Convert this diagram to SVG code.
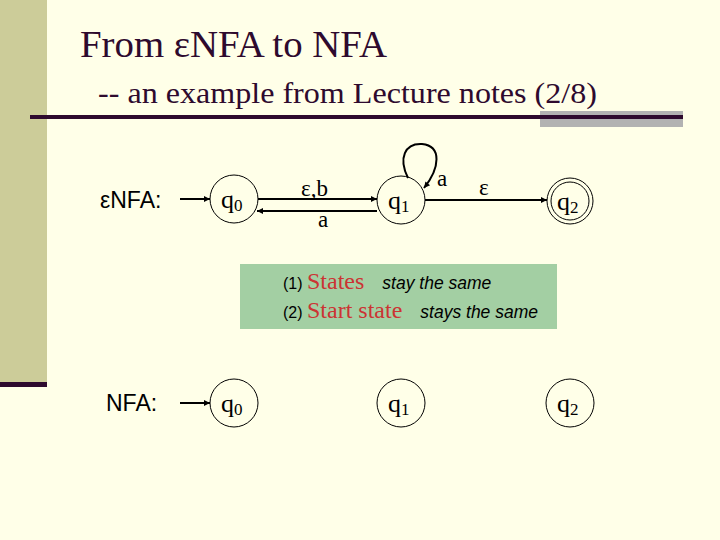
<svg xmlns="http://www.w3.org/2000/svg" width="720" height="540" viewBox="0 0 720 540">
<defs>
<marker id="arr" viewBox="0 0 10 10" refX="10" refY="5" markerWidth="8" markerHeight="6" markerUnits="userSpaceOnUse" orient="auto">
<path d="M0,0 L10,5 L0,10 Z" fill="#000"/>
</marker>
<style>
.st{fill:none;stroke:#000;stroke-width:1}
.q{font-family:"Liberation Serif",serif;font-size:26px;fill:#000}
.sub{font-size:17px}
.lbl{font-family:"Liberation Serif",serif;font-size:23px;fill:#000}
.edge{fill:none;stroke:#000;stroke-width:2;marker-end:url(#arr)}
.sans{font-family:"Liberation Sans",Arial,sans-serif;fill:#000}
.red{font-family:"Liberation Serif",serif;fill:#CC3333;font-size:24px}
.it{font-family:"Liberation Sans",Arial,sans-serif;font-style:italic;font-size:17.5px;fill:#000}
</style>
</defs>
<rect width="720" height="540" fill="#FFFFE8"/>
<rect x="0" y="0" width="47" height="382" fill="#CCCC99"/>
<rect x="0" y="382" width="47" height="5" fill="#2E0A2E"/>
<rect x="540" y="111" width="143" height="16" fill="#B2B2B2"/>
<rect x="30" y="115" width="653" height="4" fill="#2E0A2E"/>
<text x="80" y="57" font-family="Liberation Serif,serif" font-size="38" fill="#2E0A2E" textLength="307" lengthAdjust="spacingAndGlyphs">From εNFA to NFA</text>
<text x="98" y="103" font-family="Liberation Serif,serif" font-size="30" fill="#2E0A2E" textLength="499" lengthAdjust="spacingAndGlyphs">-- an example from Lecture notes (2/8)</text>

<text x="100" y="208" class="sans" font-size="23">εNFA:</text>
<text x="106" y="411" class="sans" font-size="23">NFA:</text>

<g id="connectors">
<line class="edge" x1="180" y1="199" x2="210" y2="199"/>
<line class="edge" x1="258" y1="199" x2="377" y2="199"/>
<line class="edge" x1="377" y1="211" x2="257" y2="211"/>
<path class="edge" d="M408,178 C398,158 405,143 422,144 C442,146 440,168 424,188"/>
<line class="edge" x1="425" y1="200" x2="547" y2="200"/>
<line class="edge" x1="180" y1="403" x2="210" y2="403"/>
<text x="301" y="196" class="lbl">ε,b</text>
<text x="318" y="227" class="lbl">a</text>
<text x="437" y="186" class="lbl">a</text>
<text x="479" y="195" class="lbl">ε</text>
</g>

<g id="n-q0">
<circle class="st" cx="234" cy="199" r="24"/>
<text x="221" y="208" class="q">q<tspan class="sub" dy="3">0</tspan></text>
</g>
<g id="n-q1">
<circle class="st" cx="401" cy="200" r="24"/>
<text x="388" y="209" class="q">q<tspan class="sub" dy="3">1</tspan></text>
</g>
<g id="n-q2">
<circle class="st" cx="570" cy="201" r="23"/>
<circle class="st" cx="570" cy="201" r="19"/>
<text x="557" y="210" class="q">q<tspan class="sub" dy="3">2</tspan></text>
</g>

<g id="note">
<rect x="240" y="264" width="317" height="65" fill="#A3CFA3"/>
<text x="283" y="289" class="sans" font-size="16">(1) <tspan class="red">States</tspan><tspan class="it" dx="18">stay the same</tspan></text>
<text x="283" y="318" class="sans" font-size="16">(2) <tspan class="red">Start state</tspan><tspan class="it" dx="18">stays the same</tspan></text>
</g>

<g id="m-q0">
<circle class="st" cx="234" cy="403" r="24"/>
<text x="221" y="412" class="q">q<tspan class="sub" dy="3">0</tspan></text>
</g>
<g id="m-q1">
<circle class="st" cx="401" cy="403" r="24"/>
<text x="388" y="412" class="q">q<tspan class="sub" dy="3">1</tspan></text>
</g>
<g id="m-q2">
<circle class="st" cx="570" cy="403" r="24"/>
<text x="557" y="412" class="q">q<tspan class="sub" dy="3">2</tspan></text>
</g>
</svg>
